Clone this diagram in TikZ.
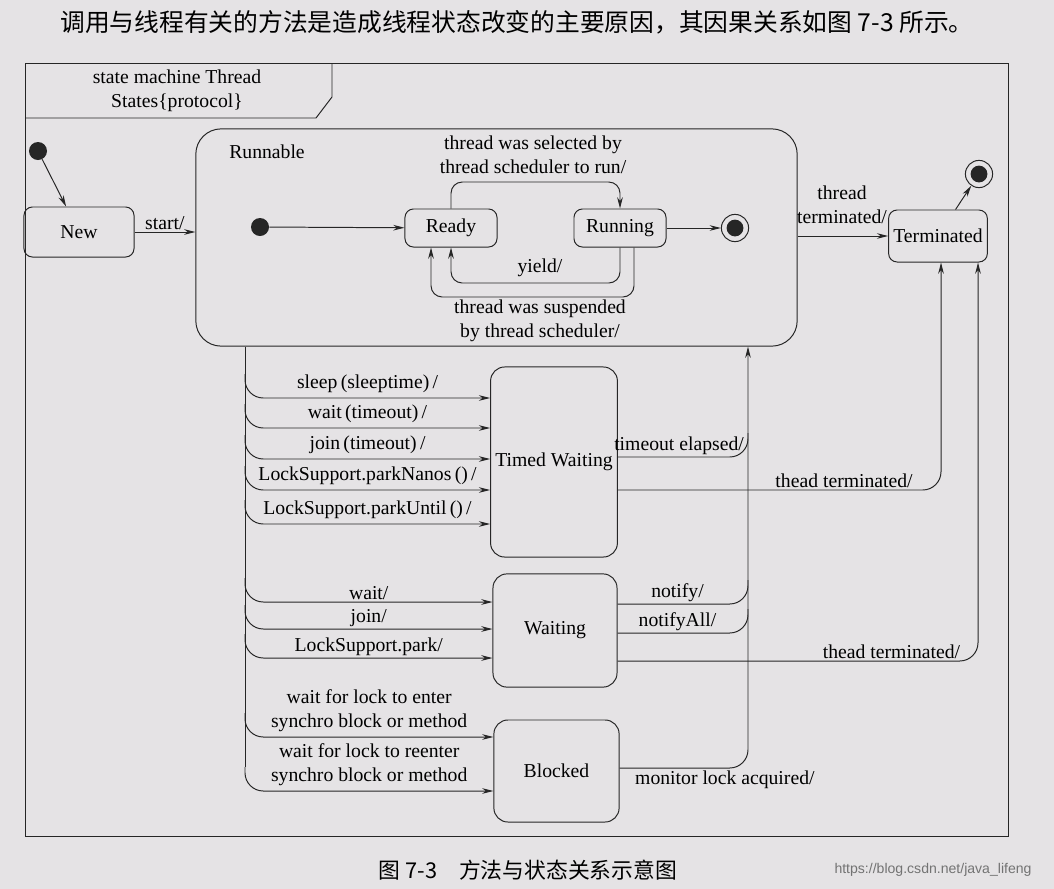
\documentclass[tikz,border=0pt]{standalone}
\usepackage{fontspec}
\setmainfont{Liberation Serif}
\newfontfamily\cjk{Noto Sans CJK SC}
\newfontfamily\wmfont{Liberation Sans}
\usetikzlibrary{arrows.meta, positioning}
\definecolor{paper}{RGB}{229,227,229}

\begin{document}
\begin{tikzpicture}[
  x=0.025cm, y=-0.025cm,
  every node/.style={font=\fontsize{14}{17}\selectfont},
  line/.style={draw=black!85, line width=0.7pt},
  stbox/.style={rectangle, draw=black!85, line width=0.7pt, rounded corners=6pt, align=center},
  bigbox/.style={stbox, rounded corners=10pt},
  startdot/.style={circle, fill=black!85, minimum size=0.45cm, inner sep=0pt},
  enddot/.style={circle, draw=black!85, line width=0.7pt, minimum size=0.68cm, inner sep=0pt,
    path picture={\fill[black!85] (path picture bounding box.center) circle (0.21cm);}},
  arrow/.style={line, -{Stealth[length=8pt, width=4pt]}},
  trans/.style={line, rounded corners=13pt},
  lbl/.style={inner sep=1.5pt, align=center}
  ]
  \fill[paper] (0,0) rectangle (1054,889);
  \useasboundingbox (0,0) rectangle (1054,889);

  % ========== 正文与图题 ==========
  \node[font=\cjk\fontsize{17.6}{20}\selectfont] (intro) at (517,22) {调用与线程有关的方法是造成线程状态改变的主要原因，其因果关系如图 7-3 所示。};
  \node[font=\cjk\fontsize{15.5}{18}\selectfont] (caption) at (528,870) {图 7-3\quad 方法与状态关系示意图};
  \node[font=\wmfont\fontsize{10}{12}\selectfont, text=black!55] (mark) at (933,870) {https://blog.csdn.net/java\_lifeng};

  % ========== 外框 ==========
  \draw[line] (25,63) rectangle (1008,836);
  \draw[line] (25,118) -- (316,118) -- (332,97) -- (332,63);
  \node[lbl] (frameTitle) at (177,91) {state machine Thread\\States\{protocol\}};

  % ========== 状态 ==========
  \node[startdot] (init) at (38,151) {};
  \node[stbox, minimum width=2.75cm, minimum height=1.25cm] (new) at (79,232) {New};
  \node[stbox, rounded corners=18pt, minimum width=15.03cm, minimum height=5.43cm] (runnable) at (496.5,237.5) {};
  \node (runnableLbl) at (267,152) {Runnable};
  \node[startdot] (rinit) at (260,227) {};
  \node[stbox, minimum width=2.3cm, minimum height=0.95cm] (ready) at (451,228) {Ready};
  \node[stbox, minimum width=2.3cm, minimum height=0.95cm] (running) at (620,228) {Running};
  \node[enddot] (rfinal) at (735,228) {};
  \node[stbox, minimum width=2.4cm, minimum height=1.3cm] (term) at (938,236) {Terminated};
  \node[enddot] (tfinal) at (979,174) {};
  \node[bigbox, minimum width=3.05cm, minimum height=4.75cm] (timedw) at (554,462) {Timed Waiting};
  \node[bigbox, minimum width=3.1cm, minimum height=2.83cm] (waiting) at (555,630.5) {Waiting};
  \node[bigbox, minimum width=3.13cm, minimum height=2.55cm] (blocked) at (556.5,771) {Blocked};

  \coordinate (selTop) at (535,182);
  \coordinate (yieldBot) at (535,283);
  \coordinate (suspR) at (634,297);
  \coordinate (suspL) at (431,297);
  \coordinate (ltrunk) at (245,767);
  \coordinate (rtrunk) at (748,600);

  % ========== Runnable 内部 ==========
  \draw[arrow] (init) -- (new);
  \draw[arrow] (new.east) -- (new.east -| runnable.west) node[midway, above, lbl] {start/};
  \draw[arrow] (rinit) -- (ready);
  \draw[arrow, rounded corners=8pt] (ready.north) |- (selTop) -| (running.north);
  \node[lbl] (selLbl) at (533,155) {thread was selected by\\thread scheduler to run/};
  \draw[arrow, rounded corners=8pt] (running.south) |- (yieldBot) -| (ready.south);
  \node[lbl] (yieldLbl) at (540,268) {yield/};
  \draw[arrow, rounded corners=8pt] (running.south -| suspR) -- (suspR) -- (suspL) -- (ready.south -| suspL);
  \node[lbl] (suspLbl) at (540,321) {thread was suspended\\by thread scheduler/};
  \draw[arrow] (running) -- (rfinal);
  \draw[arrow] (runnable.east |- term.west) -- (term.west);
  \node[lbl] (termLbl) at (842,205) {thread\\terminated/};
  \draw[arrow] (term) -- (tfinal);

  % ========== 左侧: 进入等待/阻塞 ==========
  \draw[line] (ltrunk |- runnable.south) -- (ltrunk);
  \foreach \y/\txt in {398/{sleep\,(sleeptime)\,/}, 428/{wait\,(timeout)\,/}, 459/{join\,(timeout)\,/},
      490/{LockSupport.parkNanos\,()\,/}, 524/{LockSupport.parkUntil\,()\,/}}
    \draw[arrow, rounded corners=13pt] (ltrunk |- 0,\y-24) |- (timedw.west |- 0,\y) node[pos=0.75, above=2pt, lbl] {\txt};
  \foreach \y/\txt in {602/{wait/}, 629/{join/}, 658/{LockSupport.park/}}
    \draw[arrow, rounded corners=13pt] (ltrunk |- 0,\y-24) |- (waiting.west |- 0,\y) node[pos=0.75, above=0pt, lbl] {\txt};
  \draw[arrow, rounded corners=13pt] (ltrunk |- 0,713) |- (blocked.west |- 0,737) node[pos=0.75, above=2pt, lbl] {wait for lock to enter\\synchro block or method};
  \draw[arrow, rounded corners=13pt] (ltrunk) |- (blocked.west |- 0,791) node[pos=0.75, above=2pt, lbl] {wait for lock to reenter\\synchro block or method};

  % ========== 右侧: 返回 Runnable / 终止 ==========
  \draw[arrow, rounded corners=13pt] (blocked.east |- 0,768) -| (rtrunk |- runnable.south) node[pos=0.41, below, lbl] {monitor lock acquired/};
  \draw[trans] (timedw.east |- 0,457) -| (rtrunk |- 0,433) node[pos=0.235, above, lbl] {timeout elapsed/};
  \draw[trans] (waiting.east |- 0,604) -| (rtrunk |- 0,580) node[pos=0.23, above, lbl] {notify/};
  \draw[trans] (waiting.east |- 0,633) -| (rtrunk |- 0,609) node[pos=0.23, above, lbl] {notifyAll/};
  \draw[arrow, rounded corners=13pt] (timedw.east |- 0,490) -| (term.south -| 941,0) node[pos=0.35, above, lbl] {thead terminated/};
  \draw[arrow, rounded corners=13pt] (waiting.east |- 0,661) -| (term.south -| 978,0) node[pos=0.38, above, lbl] {thead terminated/};
\end{tikzpicture}
\end{document}
